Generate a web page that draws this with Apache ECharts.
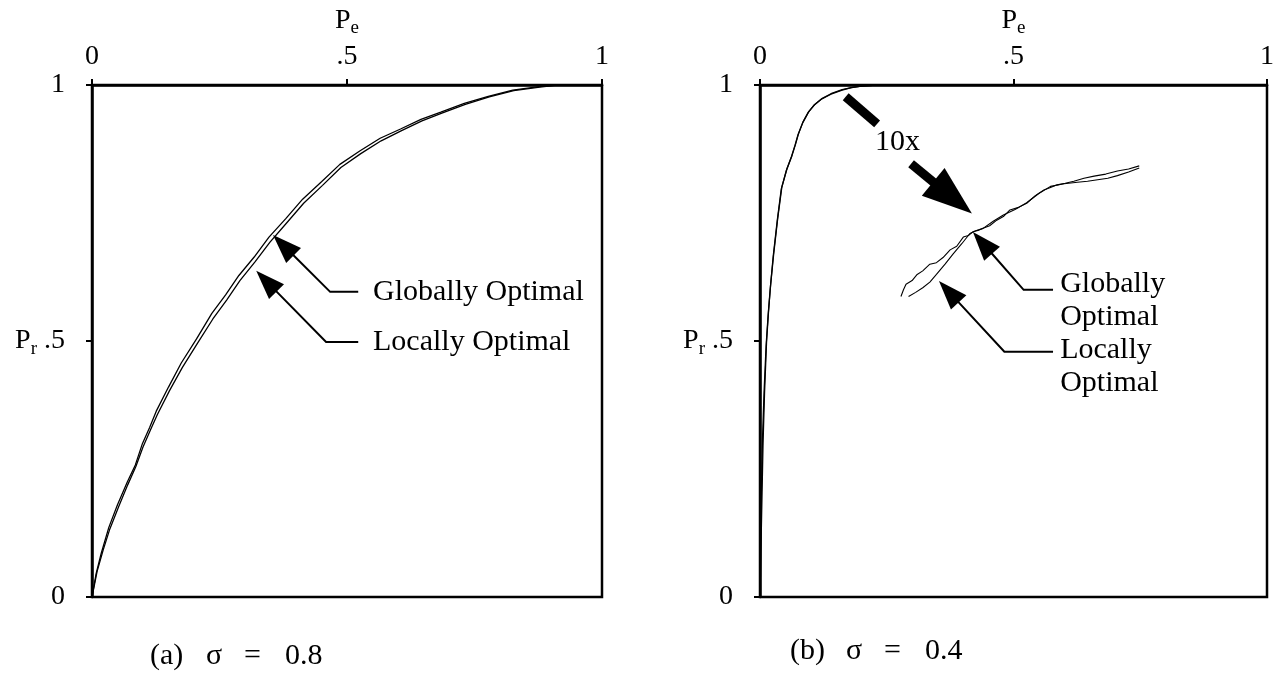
<!DOCTYPE html>
<html>
<head>
<meta charset="utf-8">
<script src="https://cdn.jsdelivr.net/npm/echarts@6/dist/echarts.min.js"></script>
<style>
  html, body { margin: 0; padding: 0; background: #fff; }
  #main { width: 1277px; height: 674px; }
</style>
</head>
<body>
<div id="main"></div>
<script>
// Axis ticks shared by both panels
const tickValues = [0, 0.5, 1];
const tickLabels = ['0', '.5', '1'];

// Panel (a): sigma = 0.8
const aGlobalPe = [0, 0.008, 0.018, 0.033, 0.05, 0.069, 0.085, 0.099, 0.113, 0.126, 0.15, 0.175, 0.205, 0.235, 0.262, 0.288, 0.318, 0.347, 0.38, 0.413, 0.45, 0.486, 0.525, 0.565, 0.605, 0.645, 0.684, 0.73, 0.777, 0.825, 0.876, 0.91, 0.95, 1.0];
const aGlobalPr = [0, 0.045, 0.085, 0.136, 0.18, 0.224, 0.258, 0.3, 0.331, 0.363, 0.41, 0.457, 0.504, 0.554, 0.59, 0.628, 0.664, 0.703, 0.739, 0.777, 0.811, 0.845, 0.871, 0.896, 0.914, 0.933, 0.947, 0.964, 0.978, 0.99, 0.997, 1.0, 1.0, 1.0];
const aLocalPe = [0, 0.01, 0.022, 0.035, 0.052, 0.07, 0.086, 0.1, 0.115, 0.128, 0.152, 0.177, 0.207, 0.237, 0.264, 0.29, 0.32, 0.349, 0.382, 0.415, 0.452, 0.488, 0.527, 0.567, 0.607, 0.647, 0.686, 0.732, 0.779, 0.827, 0.878, 0.912, 0.952, 1.0];
const aLocalPr = [0, 0.05, 0.092, 0.133, 0.176, 0.219, 0.255, 0.293, 0.327, 0.356, 0.403, 0.448, 0.496, 0.543, 0.58, 0.618, 0.655, 0.693, 0.731, 0.769, 0.804, 0.839, 0.866, 0.891, 0.911, 0.93, 0.945, 0.962, 0.977, 0.989, 0.996, 1.0, 1.0, 1.0];

// Panel (b): sigma = 0.4
const bGlobalPe = [0, 0.002, 0.004, 0.006, 0.009, 0.013, 0.017, 0.021, 0.027, 0.035, 0.043, 0.053, 0.063, 0.07, 0.076, 0.085, 0.096, 0.108, 0.123, 0.14, 0.162, 0.18, 0.2, 0.23, 0.26, 0.3, 0.5, 0.75, 1.0];
const bGlobalPr = [0, 0.1, 0.2, 0.3, 0.4, 0.5, 0.56, 0.61, 0.67, 0.74, 0.8, 0.836, 0.862, 0.884, 0.905, 0.928, 0.948, 0.962, 0.974, 0.983, 0.991, 0.995, 0.998, 1.0, 1.0, 1.0, 1.0, 1.0, 1.0];
const bLocalPe = [0, 0.001, 0.003, 0.005, 0.008, 0.012, 0.016, 0.02, 0.026, 0.034, 0.042, 0.052, 0.062, 0.069, 0.075, 0.084, 0.095, 0.107, 0.122, 0.14, 0.162, 0.18, 0.2, 0.23, 0.26, 0.3, 0.5, 0.75, 1.0];
const bLocalPr = [0, 0.12, 0.22, 0.31, 0.4, 0.49, 0.55, 0.6, 0.665, 0.735, 0.797, 0.833, 0.86, 0.882, 0.903, 0.926, 0.946, 0.961, 0.973, 0.982, 0.99, 0.995, 0.998, 1.0, 1.0, 1.0, 1.0, 1.0, 1.0];

// Panel (b): knee of the curves magnified 10x
const bZoomGlobalPe = [0.278, 0.283, 0.288, 0.300, 0.310, 0.321, 0.335, 0.348, 0.361, 0.375, 0.388, 0.401, 0.411, 0.421, 0.430, 0.440, 0.453, 0.467, 0.480, 0.493, 0.51, 0.526, 0.543, 0.560, 0.573, 0.586, 0.602, 0.619, 0.639, 0.659, 0.682, 0.705, 0.727, 0.748];
const bZoomGlobalPr = [0.587, 0.600, 0.611, 0.618, 0.630, 0.637, 0.650, 0.653, 0.663, 0.678, 0.685, 0.703, 0.706, 0.714, 0.716, 0.72, 0.725, 0.736, 0.743, 0.756, 0.761, 0.769, 0.784, 0.795, 0.800, 0.805, 0.808, 0.812, 0.818, 0.822, 0.826, 0.832, 0.836, 0.842];
const bZoomLocalPe = [0.293, 0.307, 0.321, 0.335, 0.348, 0.365, 0.381, 0.398, 0.414, 0.427, 0.440, 0.460, 0.480, 0.503, 0.526, 0.55, 0.573, 0.6, 0.626, 0.646, 0.666, 0.686, 0.705, 0.727, 0.748];
const bZoomLocalPr = [0.587, 0.595, 0.604, 0.615, 0.630, 0.650, 0.670, 0.690, 0.710, 0.716, 0.720, 0.734, 0.746, 0.757, 0.770, 0.788, 0.802, 0.807, 0.810, 0.812, 0.815, 0.818, 0.823, 0.830, 0.838];

const panelTags = ['(a)', '(b)'];
const sigmaValues = ['0.8', '0.4'];
const curveNames = ['Globally Optimal', 'Locally Optimal'];

const SERIF = '"Liberation Serif", "Times New Roman", serif';
const pairs = (xs, ys) => xs.map((x, i) => [x, ys[i]]);

// Callout arrows, anchored in data space of each panel
const notesA = [
  { path: [[0.522, 0.596], [0.467, 0.596], [0.355, 0.707]], head: true, label: 'Globally Optimal', labelAt: [0.551, 0.596] },
  { path: [[0.522, 0.498], [0.459, 0.498], [0.322, 0.637]], head: true, label: 'Locally Optimal', labelAt: [0.551, 0.498] }
];
const notesB = [
  { path: [[0.578, 0.6], [0.52, 0.6], [0.42, 0.713]], head: true, label: 'Globally\nOptimal', labelAt: [0.592, 0.578] },
  { path: [[0.578, 0.479], [0.482, 0.479], [0.353, 0.617]], head: true, label: 'Locally\nOptimal', labelAt: [0.592, 0.45] },
  { path: [[0.169, 0.977], [0.231, 0.924]], head: false, width: 9 },
  { path: [[0.298, 0.846], [0.418, 0.749]], head: true, width: 9, headLen: 50, headHalf: 18, label: '10x', labelAt: [0.271, 0.889], labelAlign: 'center' }
];

function calloutRenderer(notes) {
  return function (params, api) {
    const n = notes[params.dataIndex];
    const pts = n.path.map(p => api.coord(p));
    const children = [];
    const lw = n.width || 2;
    if (n.head) {
      const T = pts[pts.length - 1], E = pts[pts.length - 2];
      const dx = T[0] - E[0], dy = T[1] - E[1];
      const len = Math.hypot(dx, dy), ux = dx / len, uy = dy / len;
      const L = n.headLen || 29, W = n.headHalf || 10.5;
      const B = [T[0] - ux * L, T[1] - uy * L];
      const shaft = pts.slice(0, -1).concat([[B[0] + ux * 2, B[1] + uy * 2]]);
      children.push({ type: 'polyline', shape: { points: shaft }, style: { stroke: '#000', lineWidth: lw, fill: null, lineCap: 'butt' } });
      children.push({ type: 'polygon', shape: { points: [T, [B[0] - uy * W, B[1] + ux * W], [B[0] + uy * W, B[1] - ux * W]] }, style: { fill: '#000' } });
    } else {
      children.push({ type: 'polyline', shape: { points: pts }, style: { stroke: '#000', lineWidth: lw, fill: null, lineCap: 'butt' } });
    }
    if (n.label) {
      const at = api.coord(n.labelAt);
      const al = n.labelAlign || 'left';
      children.push({
        type: 'text',
        style: {
          text: n.label, x: at[0], y: at[1],
          font: '30px ' + SERIF, fill: '#000',
          align: al, verticalAlign: 'middle',
          textAlign: al, textVerticalAlign: 'middle',
          lineHeight: 33
        }
      });
    }
    return { type: 'group', children: children };
  };
}

const labelText = v => tickLabels[tickValues.indexOf(Math.round(v * 2) / 2)];
const subRich = {
  p: { fontSize: 28, fontFamily: SERIF, color: '#000' },
  s: { fontSize: 19, fontFamily: SERIF, color: '#000', padding: [16, 0, 0, 0] },
  n: { fontSize: 28, fontFamily: SERIF, color: '#000' }
};

function makeX(gi) {
  return {
    gridIndex: gi, type: 'value', position: 'top', min: 0, max: 1, interval: 0.5,
    axisLine: { show: true, onZero: false, lineStyle: { color: '#000', width: 2.5 } },
    axisTick: { show: true, inside: false, length: 6, lineStyle: { color: '#000', width: 2 } },
    splitLine: { show: false },
    axisLabel: { margin: 14, fontSize: 28, fontFamily: SERIF, color: '#000', formatter: labelText },
    name: '{p|P}{s|e}', nameLocation: 'middle', nameGap: 47,
    nameTextStyle: { rich: subRich }
  };
}
function makeY(gi) {
  return {
    gridIndex: gi, type: 'value', position: 'left', min: 0, max: 1, interval: 0.5,
    axisLine: { show: true, onZero: false, lineStyle: { color: '#000', width: 2.5 } },
    axisTick: { show: true, inside: false, length: 6, lineStyle: { color: '#000', width: 2 } },
    splitLine: { show: false },
    axisLabel: {
      margin: 27, fontSize: 28, fontFamily: SERIF, color: '#000', rich: subRich,
      formatter: v => (v === 0.5 ? '{p|P}{s|r} {n|.5}' : labelText(v))
    }
  };
}

function curve(name, gi, xs, ys, w) {
  return {
    name: name, type: 'line', xAxisIndex: gi, yAxisIndex: gi,
    data: pairs(xs, ys), showSymbol: false, symbol: 'none', smooth: false,
    lineStyle: { color: '#000', width: w }, silent: true
  };
}

function caption(i, x, y) {
  const font = '30px ' + SERIF;
  return [
    { type: 'text', left: x, top: y, style: { text: panelTags[i], font: font, fill: '#000' } },
    { type: 'text', left: x + 56, top: y, style: { text: '\u03c3', font: font, fill: '#000' } },
    { type: 'text', left: x + 94, top: y, style: { text: '=', font: font, fill: '#000' } },
    { type: 'text', left: x + 135, top: y, style: { text: sigmaValues[i], font: font, fill: '#000' } }
  ];
}

const chart = echarts.init(document.getElementById('main'), null, { renderer: 'canvas' });
chart.setOption({
  backgroundColor: '#fff',
  animation: false,
  grid: [
    { left: 92, top: 85, width: 510, height: 512, show: true, borderColor: '#000', borderWidth: 2.5, backgroundColor: 'transparent' },
    { left: 760, top: 85, width: 510, height: 512, show: true, borderColor: '#000', borderWidth: 2.5, backgroundColor: 'transparent' }
  ],
  xAxis: [makeX(0), makeX(1)],
  yAxis: [makeY(0), makeY(1)],
  series: [
    curve(curveNames[0], 0, aGlobalPe, aGlobalPr, 1.3),
    curve(curveNames[1], 0, aLocalPe, aLocalPr, 1.3),
    curve(curveNames[0], 1, bGlobalPe, bGlobalPr, 1.3),
    curve(curveNames[1], 1, bLocalPe, bLocalPr, 1.3),
    curve(curveNames[0] + ' 10x', 1, bZoomGlobalPe, bZoomGlobalPr, 1.1),
    curve(curveNames[1] + ' 10x', 1, bZoomLocalPe, bZoomLocalPr, 1.1),
    { type: 'custom', xAxisIndex: 0, yAxisIndex: 0, clip: false, silent: true,
      data: notesA.map(n => n.path[n.path.length - 1]), renderItem: calloutRenderer(notesA) },
    { type: 'custom', xAxisIndex: 1, yAxisIndex: 1, clip: false, silent: true,
      data: notesB.map(n => n.path[n.path.length - 1]), renderItem: calloutRenderer(notesB) }
  ],
  graphic: caption(0, 150, 641).concat(caption(1, 790, 636))
});
</script>
</body>
</html>
